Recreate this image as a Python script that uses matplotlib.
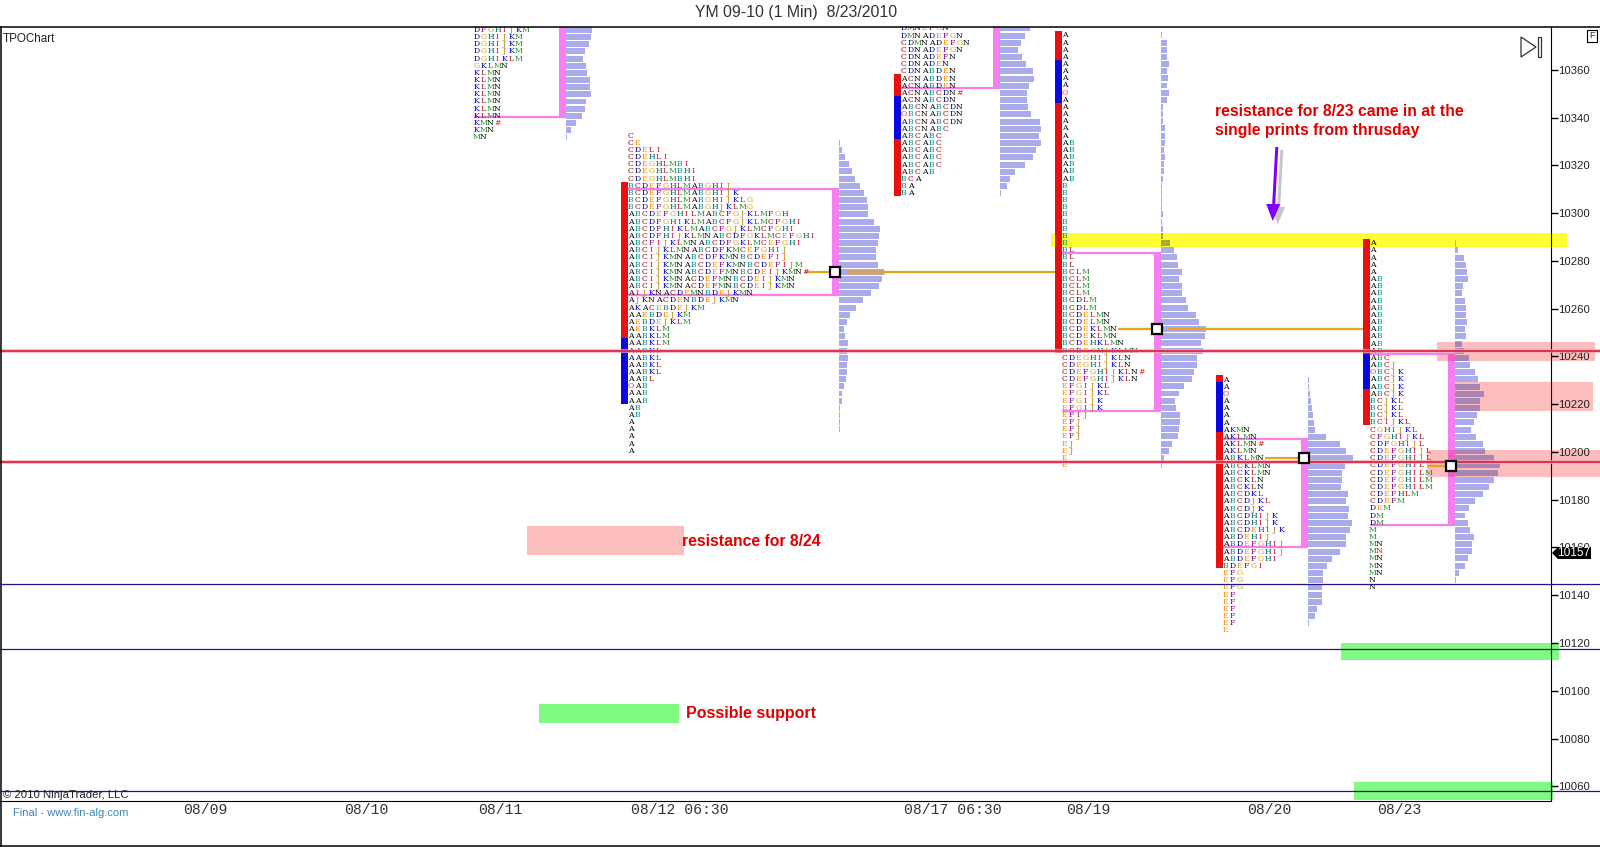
import matplotlib
matplotlib.use("Agg")
import matplotlib.pyplot as plt
from matplotlib.patches import Rectangle, Polygon
from matplotlib.lines import Line2D
from matplotlib.transforms import Affine2D

plt.rcParams['font.family'] = ['Liberation Sans', 'DejaVu Sans']

# ---------- data ----------
title = "YM 09-10 (1 Min)  8/23/2010"
date_positions = [205, 366, 500, 680, 953, 1088, 1269, 1399]
date_labels = ["08/09", "08/10", "08/11", "08/12 06:30", "08/17 06:30", "08/19", "08/20", "08/23"]
price_ticks = list(range(10060, 10361, 20))
last_price = 10157

rows_a = ["DFGHIJKM", "DGHIJKM", "DGHIJKM", "DGHIJKM", "DGHIKLM", "GKLMN", "KLMN", "KLMN", "KLMN", "KLMN",
          "KLMN", "KLMN", "KLMN", "KMN#", "KMN", "MN"]
rows_b = ["C", "CE", "CDELI", "CDEHLI", "CDEGHLMBI", "CDEGHLMBHI", "CDEGHLMBHI", "BCDEFGHLMABGHIJ",
          "BCDEFGHLMABGHIJK", "BCDEFGHLMABGHIJKLG", "BCDEFGHLMABGHJKLMG", "ABCDEFGHILMABCFGJKLMFGH",
          "ABCDFGHIKLMABCFGJKLMCFGHI", "ABCDFHIKLMABCFGJKLMCFGHI", "ABCDFHIJKLMNABCDFGKLMCEFGHI",
          "ABCFIJKLMNABCDFGKLMCEFGHI", "ABCIJKLMNABCDFKMCEFGHIJ", "ABCIJKMNABCDFKMNBCDEFIJ",
          "ABCIJKMNABCDEFKMNBCDEFIJM", "ABCIJKMNABCDEFMNBCDEIJKMN#", "ABCIJKMNACDEFMNBCDEIJKMN",
          "ABCIJKMNACDEFMNBCDEIJKMN", "AIJKNACDEMNBDEJKMN", "AJKNACDENBDEJKMN", "AKACEBDEJKM", "AAEBDEJKM",
          "AEBDEJKLM", "AEBKLM", "AABKLM", "AABKLM", "AABKL", "AABKL", "AABKL", "AABKL", "AABL", "OAB", "AAB",
          "AAB", "AB", "AB", "A", "A", "A", "A", "A"]
rows_c = ["DMNEFGN", "DMNADEFGN", "CDMNADEFGN", "CDNADEFGN", "CDNADEFN", "CDNADEN", "CDNABDEN", "ACNABDEN",
          "ACNABDEN", "ACNABCDN#", "ACNABCDN", "ABCNABCDN", "OBCNABCDN", "ABCNABCDN", "ABCNABC", "ABCABC",
          "ABCABC", "ABCABC", "ABCABC", "ABCABC", "ABCAB", "BCA", "BA", "BA"]
rows_d = ["A", "A", "A", "A", "A", "A", "A", "A", "O", "A", "A", "A", "A", "A", "A",
          "AB", "AB", "AB", "AB", "AB", "AB", "B", "B", "B", "B", "B", "B", "B", "B", "B",
          "BL", "BL", "BL", "BCLM", "BCLM", "BCLM", "BCLM", "BCDLM", "BCDLM", "BCDELMN", "BCDELMN",
          "BCDEKLMN", "BCDEKLMN", "BCDEHKLMN", "BCDEGHJKLMN", "CDEGHIJKLN", "CDEGHIJKLN", "CDEFGHIJKLN#",
          "CDEFGHIJKLN", "EFGIJKL", "EFGIJKL", "EFGIJK", "EFGIJK", "EFIJ", "EFJ", "EFJ", "EFJ", "EJ", "EJ",
          "E", "E"]
rows_e = ["A", "A", "O", "A", "A", "A", "A", "AKMN", "AKLMN", "AKLMN#", "AKLMN", "ABKLMN", "ABCKLMN", "ABCKLMN",
          "ABCKLN", "ABCKLN", "ABCDKL", "ABCDJKL", "ABCDJK", "ABCDHIJK", "ABCDHIJK", "ABCDEHIJK", "ABDEHIJ",
          "ABDEFGHIJ", "ABDEFGHIJ", "ABDEFGHI", "BDEFGI", "EFG", "EFG", "EFG", "EF", "EF", "EF", "EF", "EF", "E"]
rows_f = ["A", "A", "A", "A", "A", "AB", "AB", "AB", "AB", "AB", "AB", "AB", "AB", "AB", "AB", "AB", "ABC", "ABCJ",
          "OBCJK", "ABCJK", "ABCJK", "ABCJK", "BCJKL", "BCJKL", "BCJKL", "BCIJKL", "CGHIJKL", "CFGHIJKL",
          "CDFGHIJL", "CDEFGHIJL", "CDEFGHIJL", "CDEFGHIL", "CDEFGHILM", "CDEFGHILM", "CDEFGHILM", "CDEFHLM",
          "CDEFM", "DEM", "DM", "DM", "M", "M", "MN", "Mn", "MN", "MN", "MN", "N", "N"]

volume_a = [26, 25, 23, 19, 17, 20, 21, 24, 24, 25, 20, 19, 16, 10, 5, 1]
volume_b = [0, 1, 3, 6, 10, 13, 16, 21, 25, 28, 29, 29, 35, 41, 40, 39, 37, 37, 39, 45, 43, 40, 32, 24, 17, 11, 8, 5, 6,
            9, 8, 9, 8, 8, 7, 5, 3, 3, 1, 1, 1, 1, 0, 0, 0]
volume_c = [30, 25, 21, 18, 22, 26, 33, 34, 29, 27, 27, 28, 31, 40, 41, 39, 41, 36, 33, 25, 15, 10, 7, 1]
volume_d = [1, 6, 6, 6, 8, 6, 7, 6, 8, 6, 2, 2, 2, 4, 4, 4, 3, 4, 3, 3, 2, 1, 1, 1, 1, 2, 1, 1.5,
            2, 9, 13, 16, 17, 21, 18, 21, 21, 25, 27, 35, 38, 45, 44, 40, 42, 36, 36, 33, 31, 23, 18, 14, 15, 19, 19,
            18, 17, 11, 8, 3, 1]
volume_e = [1, 1, 2, 3, 4, 5, 6, 7, 18, 32, 38, 45, 37, 34, 34, 33, 40, 38, 41, 40, 44, 42, 38, 38, 32, 24, 19, 15, 15,
            14, 14, 14, 9, 7, 1, 0]
volume_f = [1, 3, 9, 11, 12, 13, 8, 7, 10, 11, 11, 12, 10, 11, 7, 9, 14, 15, 20, 23, 25, 29, 25, 25, 22, 19, 16, 21,
            28, 30, 39, 45, 43, 39, 34, 28, 20, 14, 10, 13, 15, 19, 17, 17, 13, 10, 4, 1, 0]

top_prices = [10376.8, 10332.5, 10377.4, 10374.5, 10230.3, 10287.4]
profile_rows = [rows_a, rows_b, rows_c, rows_d, rows_e, rows_f]
profile_volumes = [volume_a, volume_b, volume_c, volume_d, volume_e, volume_f]
profile_x = [474, 628, 901, 1062, 1223, 1370]
histogram_x = [566, 839, 1000, 1161, 1308, 1455]

value_high = [10400, 10310.2, 10400, 10283.5, 10205.4, 10241.0]
value_low = [10340.4, 10265.8, 10352.6, 10217.3, 10160.3, 10169.6]

range_bars = {
    1: [(10313.1, 10247.7, 'r'), (10247.7, 10220.2, 'b')],
    2: [(10358.3, 10349.1, 'r'), (10349.1, 10331.1, 'b'), (10331.1, 10307.4, 'r')],
    3: [(10376.3, 10364.2, 'r'), (10364.2, 10346.3, 'b'), (10346.3, 10241.5, 'r')],
    4: [(10232.3, 10229.3, 'r'), (10229.3, 10208.4, 'b'), (10208.4, 10151.5, 'r')],
    5: [(10289.2, 10241.0, 'r'), (10241.0, 10226.4, 'b'), (10226.4, 10211.4, 'r')],
}
poc_prices = {1: 10275.5, 3: 10251.5, 4: 10197.5, 5: 10194.3}
poc_segments = {1: [(805, 835), (847, 1055)], 3: [(1118, 1158), (1168, 1363)], 4: [(1265, 1304)], 5: [(1427, 1452)]}
poc_thick = {1: (847, 884)}

support_red = [10242.3, 10195.8]
support_navy = [10144.7, 10117.5, 10058.1]

yellow_band = (1051, 1567, 10285.9, 10291.7)
pink_bands = [(1437, 1595, 10238.1, 10246.1), (1455, 1593, 10217.2, 10229.3), (1427, 1600, 10189.5, 10200.8),
              (527, 684, 10156.9, 10169.2)]
green_bands = [(539, 678.5, 10086.3, 10094.4), (1341, 1559, 10112.9, 10120.0), (1354, 1553, 10054.2, 10061.8)]

# ---------- styles ----------
W, H = 1600, 847
AX_R, AX_T, AX_B = 1550.7, 27, 801.3
YTOP, YBOT = 10378.0, 10053.7
ROW = 3.0
BAR_H = 2.5
letter_colors = dict(A='#000000', B='#008b8b', C='#8b0000', D='#000080', E='#ff8c00', F='#800080', G='#d4a017',
                     H='#006060', I='#dc143c', J='#b8860b', K='#0000cd', L='#b22222', M='#2e8b2e', N='#000000',
                     O='#e03030', n='#e01010')
letter_colors['#'] = '#e02020'
HIST = '#a9abeb'
PINK = '#f57ff0'
bar_colors = {'r': '#e81010', 'b': '#0808e0'}
GOLD = '#e8a41c'

fig = plt.figure(figsize=(W / 100, H / 100), dpi=100, facecolor='white')
ax = fig.add_axes([0, 1 - AX_B / H, AX_R / W, (AX_B - AX_T) / H])
ax.set_xlim(0, AX_R)
ax.set_ylim(YBOT, YTOP)
ax.patch.set_alpha(0)
for s in ['left', 'top']:
    ax.spines[s].set_visible(False)
ax.yaxis.tick_right()
ax.set_yticks(price_ticks)
ax.set_yticklabels([str(p) for p in price_ticks], fontsize=8.1, color='#222222')
ax.tick_params(axis='y', length=5, width=1, pad=0)
ax.set_xticks(date_positions)
ax.set_xticklabels(date_labels, family=['Liberation Mono'], fontsize=10.6, color='#333333')
ax.tick_params(axis='x', length=0, pad=1)

pxT = Affine2D().scale(1, -1).translate(0, H)


def fline(xs, ys, **kw):
    fig.add_artist(Line2D(xs, ys, transform=pxT, **kw))


# frame
fline([0, W], [27, 27], color='black', lw=1.1)
fline([0, W], [846, 846], color='black', lw=1.1)
fline([0.5, 0.5], [27, 846], color='black', lw=1.1)

# bands under everything
x0, x1, y0, y1 = yellow_band
ax.add_patch(Rectangle((x0, y0), x1 - x0, y1 - y0, color='#ffff33', lw=0, zorder=1, clip_on=False))
for x0, x1, y0, y1 in pink_bands:
    ax.add_patch(Rectangle((x0, y0), x1 - x0, y1 - y0, color='#fcbdbd', lw=0, zorder=1, clip_on=False))
for x0, x1, y0, y1 in green_bands:
    ax.add_patch(Rectangle((x0, y0), x1 - x0, y1 - y0, color='#80fa80', lw=0, zorder=1, clip_on=False))

# profiles
for i, rows in enumerate(profile_rows):
    top = top_prices[i]
    xp = profile_x[i]
    for k, row in enumerate(rows):
        p = top - k * ROW
        for j, ch in enumerate(row):
            ax.text(xp + 2.5 + 7 * j, p, ch.upper() if ch == 'n' else ch, color=letter_colors[ch], family='DejaVu Serif',
                    fontsize=5.6, ha='center', va='center', zorder=4, clip_on=True)
    prices = [top - k * ROW for k in range(len(profile_volumes[i]))]
    hx = histogram_x[i]
    ax.barh(prices, profile_volumes[i], left=hx, height=BAR_H, color=HIST, lw=0, zorder=3)
    # multiply-like look where a band lies behind the histogram
    bands = []
    if i == 3:
        bands = [(yellow_band, '#a9ab30')]
    if i == 5:
        bands = [(b, '#a886b4') for b in pink_bands[:3]]
    for (b0, b1, c0, c1), col in bands:
        clip = Rectangle((b0, c0), b1 - b0, c1 - c0, transform=ax.transData)
        for bar in ax.barh(prices, profile_volumes[i], left=hx, height=BAR_H, color=col, lw=0, zorder=3.1):
            bar.set_clip_path(clip)

    # value area box
    hi, lo = value_high[i], value_low[i]
    ax.add_patch(Rectangle((hx - 7, lo), 7, hi - lo, color=PINK, lw=0, zorder=3.5))
    if hi < YTOP:
        ax.plot([xp, hx], [hi, hi], color=PINK, lw=1.6, zorder=3.5, solid_capstyle='butt')
    ax.plot([xp, hx], [lo, lo], color=PINK, lw=1.6, zorder=3.5, solid_capstyle='butt')
    if i == 5:
        for b0, b1, c0, c1 in pink_bands[:3]:
            clip = Rectangle((b0, c0), b1 - b0, c1 - c0, transform=ax.transData)
            r = Rectangle((hx - 7, lo), 7, hi - lo, color='#f060c8', lw=0, zorder=3.55)
            ax.add_patch(r)
            r.set_clip_path(clip)

    # range bars
    for a, b, c in range_bars.get(i, []):
        ax.add_patch(Rectangle((xp - 7, b), 7, a - b, color=bar_colors[c], lw=0, zorder=3.6))

    # point of control
    if i in poc_prices:
        p = poc_prices[i]
        for a, b in poc_segments[i]:
            ax.plot([a, b], [p, p], color=GOLD, lw=1.6, zorder=3.7, solid_capstyle='butt')
        if i in poc_thick:
            a, b = poc_thick[i]
            ax.plot([a, b], [p, p], color='#cfa274', lw=3.4, zorder=3.75, solid_capstyle='butt')
        ax.plot([hx - 4], [p], marker='s', ms=7, mfc='white', mec='black', mew=1.6, zorder=6)

# horizontal levels
for p in support_red:
    ax.plot([0, W], [p, p], color='#f8a8b0', lw=3, alpha=0.7, zorder=5, clip_on=False, solid_capstyle='butt')
    ax.plot([0, W], [p, p], color='#d82848', lw=1.3, zorder=5.1, clip_on=False, solid_capstyle='butt')
for p in support_navy:
    ax.plot([0, W], [p, p], color='#221488', lw=0.9, zorder=5, clip_on=False, solid_capstyle='butt')


def ftext(x, y, s, **kw):
    kw.setdefault('va', 'center')
    fig.text(x / W, 1 - y / H, s, **kw)


# text
ftext(796, 12.5, title, fontsize=11.4, color='#333333', ha='center')
ftext(3, 39, "TPOChart", fontsize=8.4, color='#222222')
ftext(3, 795, "\u00a9 2010 NinjaTrader, LLC", fontsize=8.2, color='#222222')
ftext(13, 813, "Final - www.fin-alg.com", fontsize=8.0, color='#3f86b5')
RED = '#e00000'
ftext(682, 541, "resistance for 8/24", fontsize=11.35, color=RED, weight='bold')
ftext(686, 713, "Possible support", fontsize=11.5, color=RED, weight='bold')
ftext(1215, 112, "resistance for 8/23 came in at the", fontsize=11.35, color=RED, weight='bold')
ftext(1215, 131, "single prints from thrusday", fontsize=11.35, color=RED, weight='bold')


# arrow with shadow
def arrow_pts(dx, dy):
    pts = [(1275.3, 147), (1278.3, 147), (1275.2, 204), (1280.2, 204), (1272.7, 221), (1266.2, 204), (1272.2, 204)]
    return [(x + dx, y + dy) for x, y in pts]


fig.add_artist(Polygon(arrow_pts(5, 3), transform=pxT, color='#999999', alpha=0.55, lw=0))
fig.add_artist(Polygon(arrow_pts(0, 0), transform=pxT, color='#8000ff', lw=0))

# last price tag
tag = Polygon([(1552, 553), (1558, 547), (1591, 547), (1591, 559), (1558, 559)], transform=pxT, color='black', lw=0, zorder=20)
fig.add_artist(tag)
ftext(1574, 553.3, str(last_price), fontsize=8.6, color='white', ha='center', zorder=21)

# nav icon and F box
fig.add_artist(Polygon([(1521, 37), (1536, 47), (1521, 57)], transform=pxT, fc='white', ec='#333333', lw=0.9))
fig.add_artist(Polygon([(1538, 37), (1541, 37), (1541, 57), (1538, 57)], transform=pxT, fc='white', ec='#333333', lw=0.9))
fig.add_artist(Polygon([(1587, 29.5), (1597, 29.5), (1597, 41.5), (1587, 41.5)], transform=pxT, fc='white', ec='black', lw=0.8))
ftext(1592, 36, "F", fontsize=6.8, color='#333333', ha='center')

fig.savefig('out.png', dpi=100)
